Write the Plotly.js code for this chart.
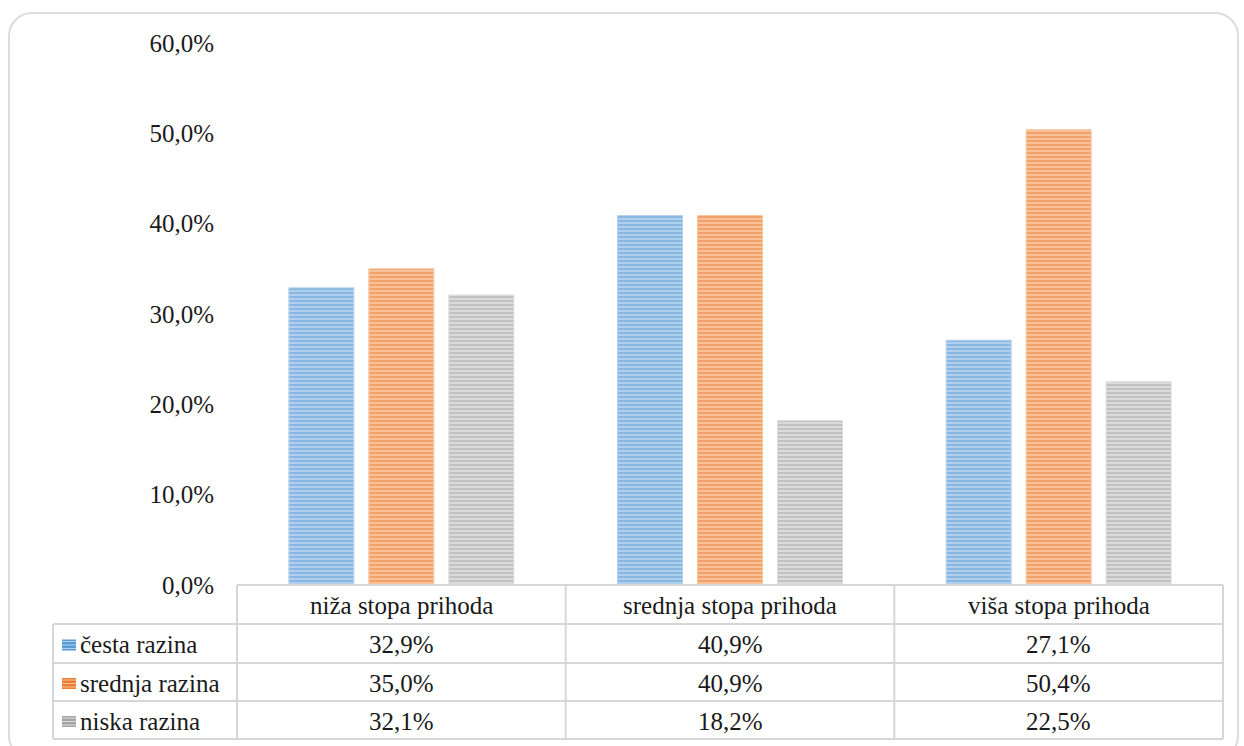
<!DOCTYPE html>
<html>
<head>
<meta charset="utf-8">
<script src="https://cdn.plot.ly/plotly-3.0.1.min.js"></script>
<style>
  html, body { margin: 0; padding: 0; background: #ffffff; }
  #wrap { position: relative; width: 1244px; height: 746px; overflow: hidden; }
  #chart { position: absolute; left: 0; top: 0; width: 1244px; height: 746px; }
  #frame { position: absolute; left: 8px; top: 12px; width: 1231px; height: 748px;
           border: 2px solid #dcdcdc; border-radius: 24px; pointer-events: none; box-sizing: border-box; }
</style>
</head>
<body>
<div id="wrap">
  <div id="chart"></div>
  <div id="frame"></div>
</div>
<script>
// ---- data ----
const categories = ['niža stopa prihoda', 'srednja stopa prihoda', 'viša stopa prihoda'];
const seriesNames = ['česta razina', 'srednja razina', 'niska razina'];
const cestaRazina = [32.9, 40.9, 27.1];
const srednjaRazina = [35.0, 40.9, 50.4];
const niskaRazina = [32.1, 18.2, 22.5];
const yTickValues = [0, 10, 20, 30, 40, 50, 60];

// ---- styles ----
const seriesValues = [cestaRazina, srednjaRazina, niskaRazina];
const darkColors = ['#5b9bd5', '#ed7d31', '#a5a5a5'];
const lightColors = ['#b4d2ee', '#f8c4a0', '#dcdcdc'];
const FONT = '"Liberation Serif", "Times New Roman", Times, serif';
const FS = 25;
const TXT = '#1a1a1a';

const traces = seriesValues.map((vals, i) => ({
  type: 'bar',
  name: seriesNames[i],
  x: categories,
  y: vals,
  marker: {
    color: lightColors[i],
    line: { color: lightColors[i], width: 1 },
    pattern: { shape: '-', fgcolor: darkColors[i], bgcolor: lightColors[i], size: 4, solidity: 0.55, fillmode: 'overlay' }
  },
  hoverinfo: 'x+y+name'
}));

// ---- geometry (pixels) ----
const W = 1244, H = 746;
const L = 237, R = 21, T = 43, B = 161;
const PW = W - L - R, PH = H - T - B;
const px = v => (v - L) / PW;           // pixel x -> paper x
const py = v => (H - B - v) / PH;       // pixel y -> paper y

const rowY = [585, 624, 663, 701, 739];  // table horizontal lines
const tableLeft = 53, tableRight = 1223;
const lineColor = '#d6d6d6';
const shapes = [];
const annotations = [];

function hline(x0, x1, y) {
  shapes.push({ type: 'line', xref: 'paper', yref: 'paper', x0: px(x0), x1: px(x1), y0: py(y), y1: py(y),
    line: { color: lineColor, width: 2 } });
}
function vline(xr, x, y0, y1) {
  shapes.push({ type: 'line', xref: xr, yref: 'paper', x0: x, x1: x, y0: py(y0), y1: py(y1),
    line: { color: lineColor, width: 2 } });
}
hline(L, tableRight, rowY[0]);
for (let k = 1; k < rowY.length; k++) hline(tableLeft, tableRight, rowY[k]);
vline('paper', px(tableLeft), rowY[1], rowY[4]);
vline('paper', 0, rowY[0], rowY[4]);
vline('x', 0.5, rowY[0], rowY[4]);
vline('x', 1.5, rowY[0], rowY[4]);
vline('paper', px(tableRight), rowY[0], rowY[4]);

const fmt = v => v.toFixed(1).replace('.', ',') + '%';

// header
categories.forEach(c => {
  annotations.push({ x: c, xref: 'x', y: py((rowY[0] + rowY[1]) / 2 + 1), yref: 'paper',
    text: c, showarrow: false, xanchor: 'center', yanchor: 'middle',
    font: { family: FONT, size: FS, color: TXT } });
});
// rows
seriesValues.forEach((vals, i) => {
  const yc = (rowY[i + 1] + rowY[i + 2]) / 2 + 1;
  vals.forEach((v, j) => {
    annotations.push({ x: categories[j], xref: 'x', y: py(yc), yref: 'paper',
      text: fmt(v), showarrow: false, xanchor: 'center', yanchor: 'middle',
      font: { family: FONT, size: FS, color: TXT } });
  });
  // legend label
  annotations.push({ x: px(78), xref: 'paper', y: py(yc), yref: 'paper',
    text: seriesNames[i], showarrow: false, xanchor: 'left', yanchor: 'middle',
    font: { family: FONT, size: FS, color: TXT } });
  // legend swatch
  shapes.push({ type: 'rect', xref: 'paper', yref: 'paper',
    x0: px(62), x1: px(76), y0: py(yc - 5), y1: py(yc + 6),
    fillcolor: darkColors[i], line: { width: 0 } });
  for (let s = 0; s < 3; s++) {
    const ys = yc - 3 + s * 3.5;
    shapes.push({ type: 'line', xref: 'paper', yref: 'paper', x0: px(62), x1: px(76), y0: py(ys), y1: py(ys),
      line: { color: lightColors[i], width: 1 } });
  }
});

const layout = {
  width: W, height: H,
  margin: { l: L, r: R, t: T, b: B, pad: 0 },
  paper_bgcolor: '#ffffff',
  plot_bgcolor: '#ffffff',
  showlegend: false,
  barmode: 'group',
  bargap: 0.27,
  bargroupgap: 0.1875,
  font: { family: FONT, size: FS, color: TXT },
  xaxis: { type: 'category', range: [-0.5, 2.5], showticklabels: false, showgrid: false,
    zeroline: false, showline: false, ticks: '', fixedrange: true },
  yaxis: { range: [0, 60], tickmode: 'array', tickvals: yTickValues, ticktext: yTickValues.map(fmt),
    showgrid: false, zeroline: false, showline: false, ticks: '', ticklabelstandoff: 22,
    tickfont: { family: FONT, size: FS, color: TXT }, fixedrange: true },
  shapes: shapes,
  annotations: annotations
};

Plotly.newPlot('chart', traces, layout, { displayModeBar: false });
</script>
</body>
</html>
